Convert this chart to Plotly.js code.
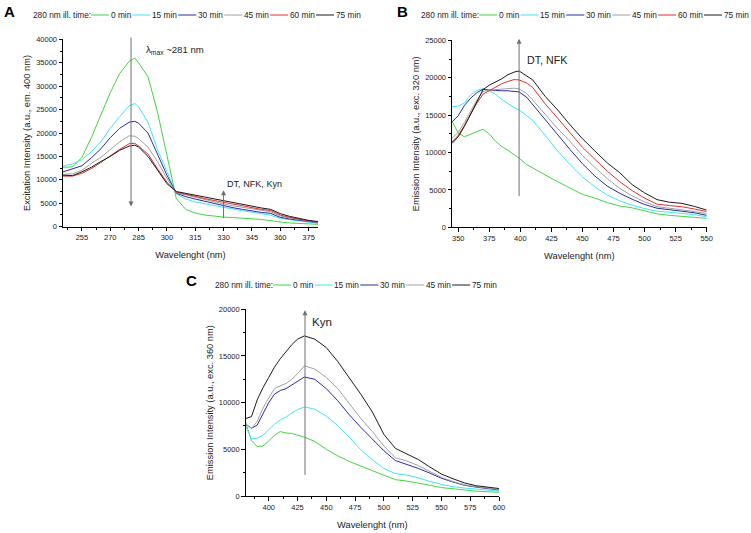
<!DOCTYPE html>
<html><head><meta charset="utf-8">
<script src="https://cdn.plot.ly/plotly-3.0.1.min.js"></script>
<style>html,body{margin:0;padding:0;background:#fff;}#chart{width:751px;height:533px;}</style>
</head><body><div id="chart"></div>
<script>
// ---------- DATA ----------
const timeLabelsAB = ['0 min','15 min','30 min','45 min','60 min','75 min'];
const timeLabelsC = ['0 min','15 min','30 min','45 min','75 min'];
const legendTitle = '280 nm ill. time:';

// Panel A: excitation spectra (em. 400 nm)
const wlA = [245,250,255,260,265,270,275,280,283,285,290,295,300,305,310,315,320,325,330,335,340,345,350,355,358,360,365,370,375,380];
const a0  = [12700,12750,14800,19000,23800,28600,32700,35300,36000,35000,32000,24500,15300,6000,3700,2900,2500,2250,2050,1950,1850,1750,1550,1300,1100,1000,800,700,600,500];
const a15 = [12900,13400,14300,16000,18100,21000,23500,25800,26300,25600,22300,16500,11800,7000,5900,5300,4900,4500,4100,3750,3400,3100,2750,2450,2050,1800,1500,1200,900,700];
const a30 = [11700,12300,13000,14700,16600,19000,21000,22300,22500,22100,20000,15500,11000,7150,6400,5900,5400,4950,4500,4050,3700,3350,3050,2850,2350,2000,1650,1350,1050,850];
const a45 = [11200,11300,12000,13500,14800,16400,18100,19400,19300,18800,17000,13900,10300,7250,6750,6200,5800,5300,4850,4450,4100,3750,3400,3200,2650,2300,1850,1500,1150,900];
const a60 = [10800,10800,11400,12400,13700,15100,16500,17700,17800,17200,15500,12400,9500,7400,6900,6400,6000,5600,5200,4800,4400,4050,3700,3450,2900,2500,2000,1600,1250,1000];
const a75 = [11000,10900,11700,12700,13900,15000,16300,17200,17400,17000,15000,12100,9200,7500,7100,6700,6300,5900,5500,5100,4750,4350,4000,3700,3200,2800,2200,1750,1350,1100];

// Panel B: emission spectra (exc. 320 nm)
const wlB = [345,350,355,360,365,370,375,380,385,390,395,399,405,410,420,430,440,450,460,470,480,490,500,510,520,530,540,550];
const b0  = [14200,12600,12100,12500,12800,13100,12500,11500,10800,10300,9700,9250,8400,7900,7000,6100,5250,4400,3900,3300,2850,2600,2200,1800,1600,1450,1300,1200];
const b15 = [16100,16200,16600,17700,18300,18550,18200,17800,17100,16500,16000,15700,14900,14300,12300,10200,8400,6750,5400,4300,3550,2950,2500,2150,2000,1900,1700,1400];
const b30 = [14100,14900,16300,17250,18000,18450,18350,18250,18250,18250,18200,18100,17400,16400,14300,12300,10400,8500,6850,5500,4550,3750,3050,2550,2350,2200,1950,1600];
const b45 = [11900,12700,14000,15500,17000,18150,18350,18400,18500,18580,18600,18500,17900,17000,15100,13200,11500,9600,8000,6500,5200,4200,3400,2750,2550,2350,2100,1850];
const b60 = [11400,12300,13600,15200,16600,17800,18300,18700,19200,19500,19750,19700,19300,18700,16500,14600,12600,10700,9100,7500,6100,4900,3900,3100,2900,2750,2450,2100];
const b75 = [11200,12100,13500,15200,16800,18400,19000,19400,19850,20400,20750,20900,20300,19700,17500,15700,13700,11850,10200,8600,7300,5700,4600,3700,3350,3200,2800,2300];

// Panel C: emission spectra (exc. 360 nm)
const wlC = [380,385,390,395,400,405,410,415,420,425,431,440,450,460,470,480,490,500,510,520,530,540,550,560,570,580,590,600];
const c0  = [7900,5900,5300,5350,5900,6500,6900,6750,6700,6500,6300,5850,5000,4300,3700,3200,2700,2250,1750,1600,1400,1150,900,750,600,520,460,400];
const c15 = [7500,6100,6200,6500,7100,7700,8150,8450,8900,9250,9550,9300,8550,7550,6300,4950,3900,2950,2400,2250,1950,1550,1250,1000,850,720,620,540];
const c30 = [7700,7250,7600,8800,10000,10900,11300,11500,11900,12300,12750,12500,11500,10200,8700,7350,6100,4850,3800,3400,2950,2450,1900,1500,1150,950,800,650];
const c45 = [7700,7250,8000,9400,10500,11500,11800,12050,12500,13100,13950,13600,12700,11500,9900,8300,6900,5350,4100,3750,3250,2600,2000,1550,1200,1000,850,700];
const c75 = [8300,8500,10300,11600,12700,13800,14700,15500,16200,16800,17150,16800,15900,14400,12700,10900,9000,6600,5100,4500,3900,3100,2350,1850,1400,1100,950,800];

// ---------- STYLE / LAYOUT ----------
const W = 751, H = 533;
const FONT = '"Liberation Sans", Arial, sans-serif';
const TXT = '#222';
const colorOf = {'0 min':'#44d444','15 min':'#44e4f4','30 min':'#2a2aa8','45 min':'#a0a0a0','60 min':'#e03030','75 min':'#1a1a1a'};

const traces = [];
function addPanel(xs, series, labels, xa, ya){
  series.forEach((ys, i) => {
    traces.push({x: xs, y: ys, xaxis: xa, yaxis: ya, type: 'scatter', mode: 'lines',
      name: labels[i], showlegend: false, hoverinfo: 'x+y+name',
      line: {color: colorOf[labels[i]], width: 1}});
  });
}
addPanel(wlA, [a0,a15,a30,a45,a60,a75], timeLabelsAB, 'x', 'y');
addPanel(wlB, [b0,b15,b30,b45,b60,b75], timeLabelsAB, 'x2', 'y2');
addPanel(wlC, [c0,c15,c30,c45,c75], timeLabelsC, 'x3', 'y3');

function xAxis(dom, range, tick0, dtick, anchor){
  return {domain: dom, range: range, anchor: anchor, showline: true, linecolor: '#000', linewidth: 1,
    ticks: 'outside', ticklen: 3.5, tickwidth: 1, tickcolor: '#000', showgrid: false, zeroline: false,
    tickmode: 'linear', tick0: tick0, dtick: dtick,
    minor: {ticks: 'outside', ticklen: 2, tickcolor: '#000', dtick: dtick/2, tick0: tick0, showgrid: false},
    tickfont: {family: FONT, size: 7.5, color: TXT},
    title: {text: 'Wavelenght (nm)', font: {family: FONT, size: 9.3, color: TXT}, standoff: 10}};
}
function yAxis(dom, range, title, anchor){
  return {domain: dom, range: range, anchor: anchor, showline: true, linecolor: '#000', linewidth: 1,
    ticks: 'outside', ticklen: 3.5, tickwidth: 1, tickcolor: '#000', showgrid: false, zeroline: false,
    tickmode: 'linear', tick0: 0, dtick: 5000, tickformat: 'd',
    minor: {ticks: 'outside', ticklen: 2, tickcolor: '#000', dtick: 2500, showgrid: false},
    tickfont: {family: FONT, size: 7.5, color: TXT},
    title: {text: title, font: {family: FONT, size: 9.3, color: TXT}, standoff: 3}};
}
const dx = (a,b) => [a/W, b/W];
const dy = (top,bot) => [1-bot/H, 1-top/H];

const annotations = [], shapes = [];
const ctx = document.createElement('canvas').getContext('2d');
function textW(s, size){ ctx.font = size + 'px "Liberation Sans"'; return ctx.measureText(s).width; }
function addLegend(x0, yc, labels){
  const fs = 8.3, yp = 1 - yc/H;
  annotations.push({xref:'paper', yref:'paper', x: x0/W, y: yp, xanchor:'left', yanchor:'middle',
    text: legendTitle, showarrow:false, borderpad:0, borderwidth:0, font:{family:FONT, size:fs, color:TXT}});
  let x = x0 + textW(legendTitle, fs);
  labels.forEach(lab => {
    shapes.push({type:'line', xref:'paper', yref:'paper', x0: x/W, x1: (x+18)/W, y0: yp, y1: yp,
      line:{color: colorOf[lab], width: 1}});
    annotations.push({xref:'paper', yref:'paper', x: (x+20)/W, y: yp, xanchor:'left', yanchor:'middle',
      text: lab, showarrow:false, borderpad:0, borderwidth:0, font:{family:FONT, size:fs, color:TXT}});
    x += 20 + textW(lab, fs) + 1;
  });
}
addLegend(33, 15, timeLabelsAB);
addLegend(421, 15, timeLabelsAB);
addLegend(215, 285, timeLabelsC);

function panelLetter(t, x, y){
  annotations.push({xref:'paper', yref:'paper', x: x/W, y: 1-y/H, xanchor:'center', yanchor:'middle',
    text: '<b>'+t+'</b>', showarrow:false, font:{family:FONT, size:15, color:'#000'}});
}
panelLetter('A', 9, 11); panelLetter('B', 402.5, 12); panelLetter('C', 191, 280);

// vertical guide lines with arrowheads (annotation arrows, tail at 'ay', head at 'y')
function arrow(xa, ya, x, yTail, yHead){
  annotations.push({xref: xa, yref: ya, axref: xa, ayref: ya, x: x, y: yHead, ax: x, ay: yTail,
    text: '&nbsp;', font: {size: 1}, showarrow: true, arrowhead: 2, arrowsize: 1, arrowwidth: 1,
    arrowcolor: '#707070', standoff: 0, startstandoff: 0});
}
arrow('x','y', 281, 40800, 4300);
arrow('x','y', 330, 1400, 7800);
arrow('x2','y2', 399, 3900, 25200);
arrow('x3','y3', 431.5, 2050, 19900);

function label(xa, ya, x, y, text, size){
  annotations.push({xref: xa, yref: ya, x: x, y: y, xanchor:'left', yanchor:'middle', text: text,
    showarrow:false, borderpad:0, borderwidth:0, font:{family:FONT, size:size, color:TXT}});
}
label('x','y', 289, 37700, 'λ<sub>max</sub> ~281 nm', 9.6);
label('x','y', 331.8, 9100, 'DT, NFK, Kyn', 9.1);
label('x2','y2', 405.6, 22370, 'DT, NFK', 10.7);
label('x3','y3', 437.6, 18670, 'Kyn', 11.6);

const layout = {
  width: W, height: H, margin: {l:0, r:0, t:0, b:0},
  paper_bgcolor: '#fff', plot_bgcolor: '#fff', showlegend: false,
  xaxis:  xAxis(dx(63, 318), [245, 380], 255, 15, 'y'),
  yaxis:  yAxis(dy(39.3, 226.7), [0, 40000], 'Excitation Intensity (a.u., em. 400 nm)', 'x'),
  xaxis2: xAxis(dx(452, 706.7), [345, 550], 350, 25, 'y2'),
  yaxis2: yAxis(dy(40.3, 227.3), [0, 25000], 'Emission Intensity (a.u., exc. 320 nm)', 'x2'),
  xaxis3: xAxis(dx(245.7, 499), [380, 600], 400, 25, 'y3'),
  yaxis3: yAxis(dy(309.3, 496), [0, 20000], 'Emission Intensity (a.u., exc. 360 nm)', 'x3'),
  annotations: annotations, shapes: shapes
};
Plotly.newPlot('chart', traces, layout, {displayModeBar: false, staticPlot: true});
</script></body></html>
